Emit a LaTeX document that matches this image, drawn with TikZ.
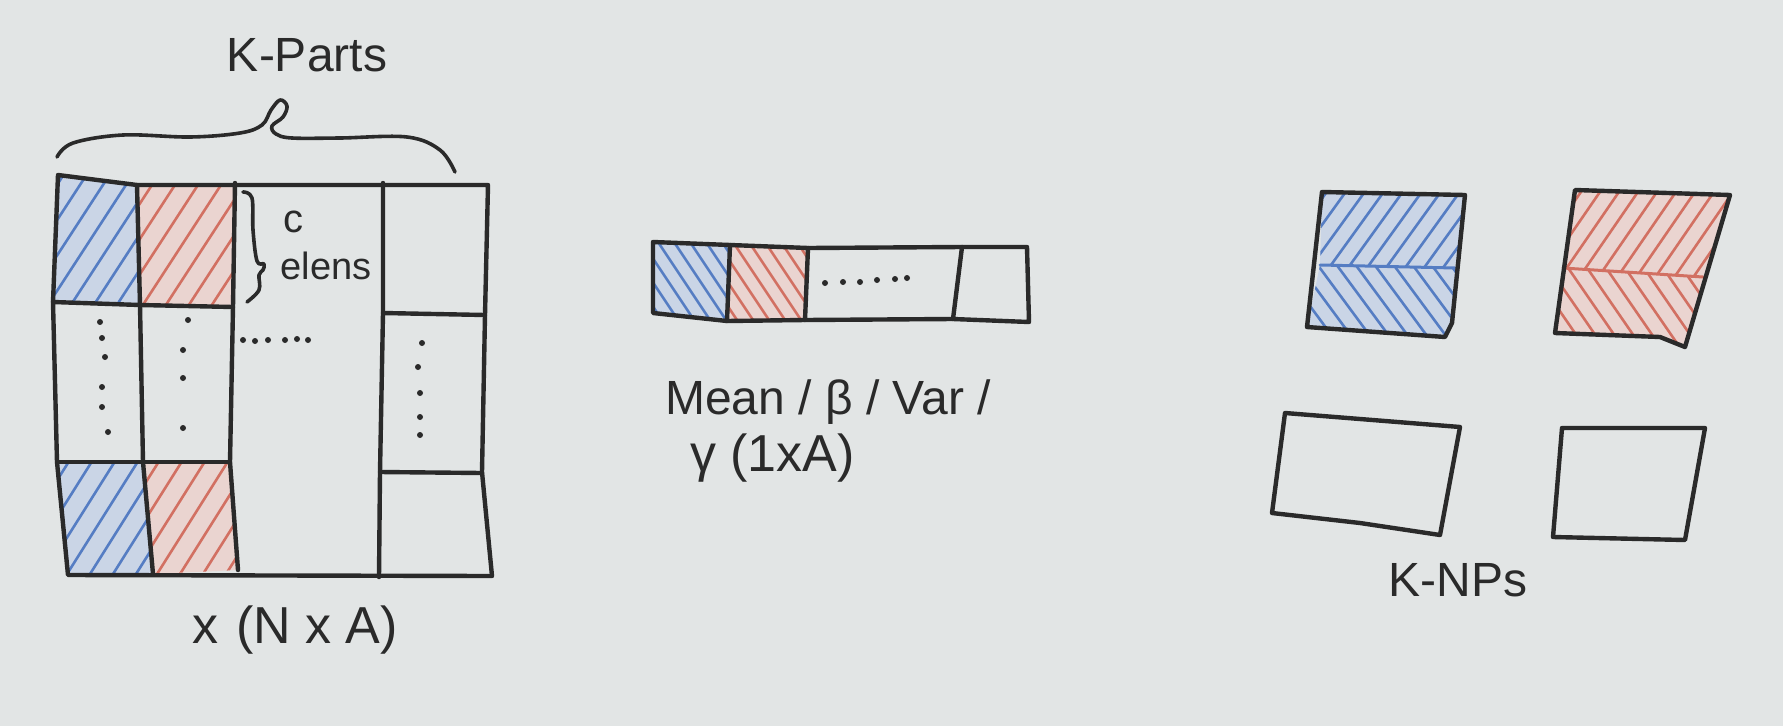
\documentclass[tikz,border=0pt]{standalone}
\usepackage{fontspec}
\setmainfont{Liberation Sans}
\definecolor{board}{RGB}{226,229,229}
\definecolor{ink}{RGB}{42,42,42}
\definecolor{bluehatch}{RGB}{85,125,195}
\definecolor{bluefill}{RGB}{202,213,230}
\definecolor{redhatch}{RGB}{210,112,98}
\definecolor{redfill}{RGB}{234,212,208}
% #1 style, #2 first s, #3 second s, #4 last s, #5 y top, #6 y bottom, #7 dx
\newcommand\hatchlines[7]{\foreach \s in {#2,#3,...,#4}{\draw[#1] (\s,#6) -- (\s+#7,#5);}}
\begin{document}
\begin{tikzpicture}[x=1pt,y=-1pt,line join=round,line cap=round,
  ink/.style={draw=ink,line width=4.4pt},
  thinink/.style={draw=ink,line width=3.6pt},
  bh/.style={draw=bluehatch,line width=2.6pt},
  rh/.style={draw=redhatch,line width=2.6pt},
  lbl/.style={text=ink,inner sep=0pt,font=\fontsize{48}{56}\selectfont},
  dotmark/.style={fill=ink,draw=none}]
\fill[board] (0,0) rectangle (1783,726);
\useasboundingbox (0,0) rectangle (1783,726);

% ---------- matrix cells: fills and hatching ----------
\begin{scope}
  \clip (58,175)--(137,185)--(140,305)--(53,302)--cycle;
  \fill[bluefill] (40,160) rectangle (160,320);
  \hatchlines{bh}{-50}{-27}{150}{168}{314}{95}
\end{scope}
\begin{scope}
  \clip (137,185)--(235,183)--(233,307)--(140,305)--cycle;
  \fill[redfill] (130,170) rectangle (250,320);
  \hatchlines{rh}{45}{68}{245}{168}{314}{95}
\end{scope}
\begin{scope}
  \clip (57,462)--(143,462)--(153,574)--(68,575)--cycle;
  \fill[bluefill] (40,450) rectangle (170,590);
  \hatchlines{bh}{-30}{-7}{170}{455}{582}{80}
\end{scope}
\begin{scope}
  \clip (143,462)--(230,462)--(238,570)--(153,574)--cycle;
  \fill[redfill] (130,450) rectangle (250,590);
  \hatchlines{rh}{60}{83}{250}{455}{582}{80}
\end{scope}

% ---------- matrix lines ----------
\draw[ink] (58,175)--(137,185)--(488,185)--(485,315)--(482,472)--(492,576)--(68,575)--(57,462)--(53,302)--cycle;
\draw[ink] (137,185)--(140,305)--(143,462)--(153,574);
\draw[ink] (235,183)--(233,307)--(230,462)--(238,570);
\draw[ink] (383,183)--(383,313)--(380,472)--(379,577);
\draw[ink] (53,302)--(140,305)--(233,307);
\draw[ink] (57,462)--(230,462);
\draw[ink] (383,313)--(485,315);
\draw[ink] (380,472)--(482,473);

% dots in the matrix
\foreach \p in {(100,322),(102,338),(105,357),(102,387),(102,407),(108,432),
                (188,320),(183,350),(183,378),(183,428),
                (243,340),(255,341),(268,340),(285,340),(297,339),(308,340),
                (422,343),(418,367),(420,393),(420,417),(420,435)}
  \fill[dotmark] \p circle[radius=3pt];

% brace over the matrix
\draw[thinink] plot[smooth,tension=0.6] coordinates {(57,157) (73,143) (123,135) (190,137) (240,133) (262,125) (271,110) (280,100) (287,106) (283,117) (272,126) (276,134) (292,138) (340,138) (407,137) (440,150) (455,172)};
% small brace beside the first block
\draw[thinink] plot[smooth,tension=0.6] coordinates {(243,192) (252,198) (253,230) (257,261) (264,264) (263,270) (259,275) (259,290) (247,302)};

\node[lbl] (kparts) at (307,55) {K-Parts};
\node[lbl,font=\fontsize{40}{46}\selectfont] (celems) at (293,222) {c};
\node[lbl,font=\fontsize{38}{44}\selectfont] (elens) at (326,266) {elens};
\node[lbl,font=\fontsize{52}{60}\selectfont] (xna) at (295,630) {x\hspace{18pt}(N x A)};

% ---------- statistics bar ----------
\begin{scope}
  \clip (653,242)--(730,245)--(727,321)--(653,313)--cycle;
  \fill[bluefill] (640,230) rectangle (745,330);
  \hatchlines{bh}{650}{666}{805}{236}{326}{-60}
\end{scope}
\begin{scope}
  \clip (730,245)--(808,248)--(805,320)--(727,321)--cycle;
  \fill[redfill] (720,230) rectangle (820,330);
  \hatchlines{rh}{725}{741}{880}{236}{326}{-60}
\end{scope}
\draw[ink] (653,242)--(730,245)--(808,248)--(962,247)--(1027,247)--(1029,322)--(953,319)--(805,320)--(727,321)--(653,313)--cycle;
\draw[ink] (730,245)--(727,321);
\draw[ink] (808,248)--(805,320);
\draw[ink] (962,247)--(953,319);
\foreach \p in {(825,283),(843,282),(860,282),(877,280),(895,279),(907,278)}
  \fill[dotmark] \p circle[radius=3pt];

\node[lbl,anchor=west] (mean) at (665,402) {Mean / β / Var /};
\node[lbl,anchor=west,font=\fontsize{52}{60}\selectfont] (gamma) at (690,458) {γ (1xA)};

% ---------- K-NPs boxes ----------
\begin{scope}
  \clip (1322,192)--(1465,195)--(1455,268)--(1320,265)--cycle;
  \fill[bluefill] (1300,180) rectangle (1480,280);
  \hatchlines{bh}{1250}{1269}{1480}{186}{272}{62}
\end{scope}
\begin{scope}
  \clip (1320,265)--(1455,268)--(1452,323)--(1445,337)--(1307,327)--cycle;
  \fill[bluefill] (1300,255) rectangle (1480,345);
  \hatchlines{bh}{1300}{1319}{1530}{260}{344}{-62}
\end{scope}
\begin{scope}
  \clip (1575,190)--(1730,195)--(1703,277)--(1563,268)--cycle;
  \fill[redfill] (1550,180) rectangle (1740,285);
  \hatchlines{rh}{1500}{1519}{1745}{186}{282}{66}
\end{scope}
\begin{scope}
  \clip (1563,268)--(1703,277)--(1685,347)--(1660,337)--(1555,333)--cycle;
  \fill[redfill] (1545,260) rectangle (1715,355);
  \hatchlines{rh}{1550}{1569}{1770}{262}{352}{-62}
\end{scope}
\draw[bh,line width=3pt] (1320,265)--(1455,268);
\draw[rh,line width=3pt] (1563,268)--(1703,277);
\draw[ink] (1322,192)--(1465,195)--(1452,323)--(1445,337)--(1307,327)--cycle;
\draw[ink] (1575,190)--(1730,195)--(1685,347)--(1660,337)--(1555,333)--cycle;
\draw[ink] (1285,413)--(1460,427)--(1440,535)--(1360,523)--(1272,513)--cycle;
\draw[ink] (1562,428)--(1705,428)--(1685,540)--(1553,537)--cycle;

\node[lbl] (knps) at (1458,580) {K-NPs};
\end{tikzpicture}
\end{document}
